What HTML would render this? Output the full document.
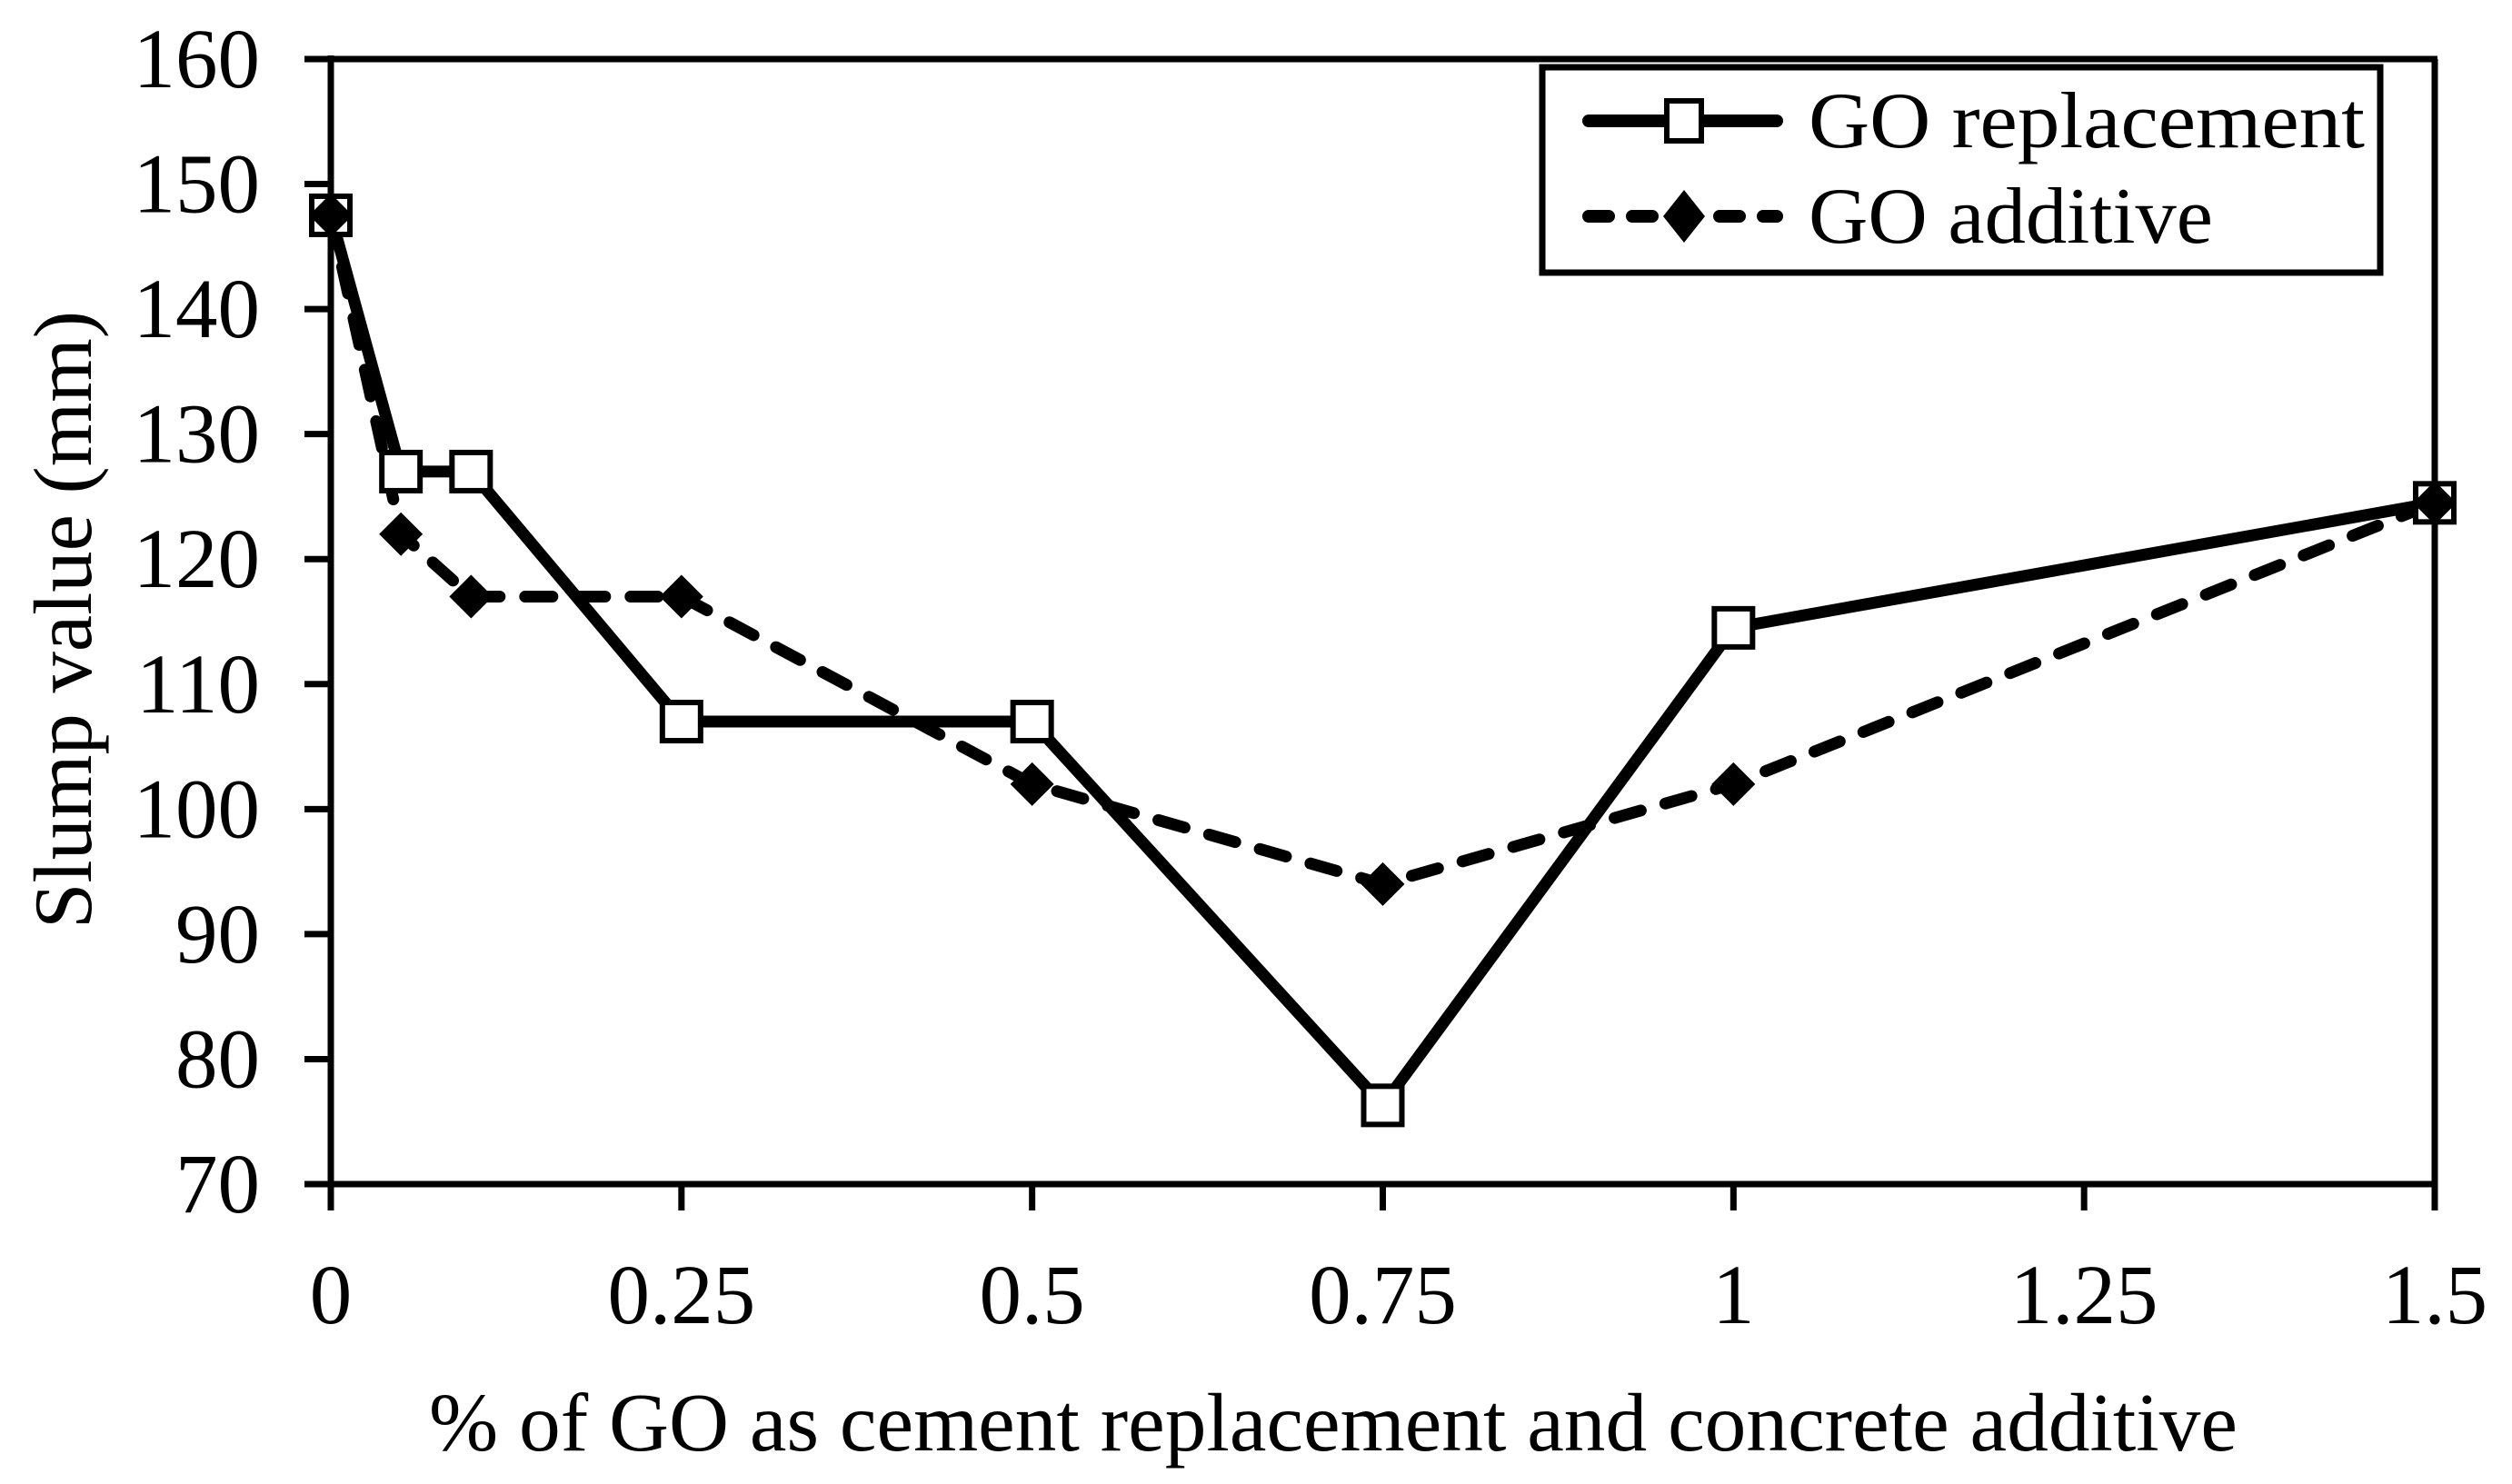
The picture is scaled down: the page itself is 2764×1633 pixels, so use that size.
<!DOCTYPE html>
<html><head><meta charset="utf-8"><style>
html,body{margin:0;padding:0;background:#fff}
svg{display:block}
text{font-family:"Liberation Serif",serif;fill:#000}
</style></head><body>
<svg id="chart" width="2764" height="1633" viewBox="0 0 2764 1633" xmlns="http://www.w3.org/2000/svg">
<g id="axes"></g>
<g id="series"></g>
<g id="legend">
  <rect x="1697" y="74" width="922" height="226" fill="#fff" stroke="#000" stroke-width="7"/>
  <g>
    <line x1="1748" y1="133" x2="1955" y2="133" stroke="#000" stroke-width="14" stroke-linecap="round"/>
    <rect x="1834" y="111" width="38" height="44" fill="#fff" stroke="#000" stroke-width="6"/>
    <text x="1990" y="162" font-size="88" textLength="612" lengthAdjust="spacingAndGlyphs">GO replacement</text>
  </g>
  <g>
    <line x1="1748" y1="238" x2="1955" y2="238" stroke="#000" stroke-width="14" stroke-linecap="round" stroke-dasharray="22 26"/>
    <polygon points="1853,209 1876,238 1853,267 1830,238" fill="#000"/>
    <text x="1990" y="267" font-size="88" textLength="445" lengthAdjust="spacingAndGlyphs">GO additive</text>
  </g>
</g>
</svg>
<script>
const xTicks = [0, 0.25, 0.5, 0.75, 1, 1.25, 1.5];
const xTickLabels = ["0", "0.25", "0.5", "0.75", "1", "1.25", "1.5"];
const yTicks = [70, 80, 90, 100, 110, 120, 130, 140, 150, 160];
const yTickLabels = ["70", "80", "90", "100", "110", "120", "130", "140", "150", "160"];
const goPercent = [0, 0.05, 0.1, 0.25, 0.5, 0.75, 1, 1.5];
const replacementSlump = [147.5, 127, 127, 107, 107, 76.3, 114.5, 124.5];
const additiveSlump = [147.5, 122, 117, 117, 102, 94, 102, 124.5];

const NS = "http://www.w3.org/2000/svg";
const X0 = 364, X1 = 2679, Y0 = 1303, Y1 = 65;
function xs(v){ return X0 + (v - 0) / 1.5 * (X1 - X0); }
function ys(v){ return Y0 - (v - 70) / 90 * (Y0 - Y1); }
function mk(tag, attrs, parent){ const e = document.createElementNS(NS, tag); for (const k in attrs) e.setAttribute(k, attrs[k]); parent.appendChild(e); return e; }

const axes = document.getElementById('axes');
const series = document.getElementById('series');

let el = mk('line', {x1: X0, y1: Y1-4, x2: X0, y2: Y0+29, stroke:'#000','stroke-width':7}, axes);


el = mk('line', {x1: X0-29, y1: Y0, x2: X1+3, y2: Y0, stroke:'#000','stroke-width':7}, axes);


el = mk('line', {x1: X0-29, y1: Y1, x2: X1+3, y2: Y1, stroke:'#000','stroke-width':7}, axes);


el = mk('line', {x1: X1, y1: Y1, x2: X1, y2: Y0+29, stroke:'#000','stroke-width':7}, axes);



yTicks.forEach((v, i) => {
  const t = mk('line', {x1: X0-29, y1: ys(v), x2: X0, y2: ys(v), stroke:'#000','stroke-width':7}, axes);
  
  
  const l = mk('text', {x: 286, y: ys(v)+31, 'font-size': 93, 'text-anchor':'end'}, axes);
  l.textContent = yTickLabels[i];
  
  
});
xTicks.forEach((v, i) => {
  const t = mk('line', {x1: xs(v), y1: Y0, x2: xs(v), y2: Y0+29, stroke:'#000','stroke-width':7}, axes);
  
  
  const l = mk('text', {x: xs(v), y: 1456, 'font-size': 93, 'text-anchor':'middle'}, axes);
  l.textContent = xTickLabels[i];
  
  
});
el = mk('text', {x: 1467, y: 1596, 'font-size': 91, 'text-anchor':'middle', textLength: 1990, lengthAdjust:'spacingAndGlyphs'}, axes);
el.textContent = '% of GO as cement replacement and concrete additive';


el = mk('text', {x: 0, y: 0, 'font-size': 91, 'text-anchor':'middle', textLength: 680, lengthAdjust:'spacingAndGlyphs', transform:'translate(100,682) rotate(-90)'}, axes);
el.textContent = 'Slump value (mm)';



const addPts = goPercent.map((p, i) => xs(p) + ',' + ys(additiveSlump[i])).join(' ');
el = mk('polyline', {points: addPts, fill:'none', stroke:'#000','stroke-width':13,'stroke-linecap':'round','stroke-linejoin':'round','stroke-dasharray':'30 28'}, series);


const repPts = goPercent.map((p, i) => xs(p) + ',' + ys(replacementSlump[i])).join(' ');
el = mk('polyline', {points: repPts, fill:'none', stroke:'#000','stroke-width':13,'stroke-linejoin':'miter'}, series);



goPercent.forEach((p, i) => {
  const cx = xs(p), cy = ys(replacementSlump[i]);
  const r = mk('rect', {x: cx-21, y: cy-21, width: 42, height: 42, fill:'#fff', stroke:'#000','stroke-width':6}, series);
  
  
});
goPercent.forEach((p, i) => {
  const cx = xs(p), cy = ys(additiveSlump[i]);
  const d = mk('polygon', {points: `${cx},${cy-24} ${cx+24},${cy} ${cx},${cy+24} ${cx-24},${cy}`, fill:'#000'}, series);
  
  
});
</script>
</body></html>
